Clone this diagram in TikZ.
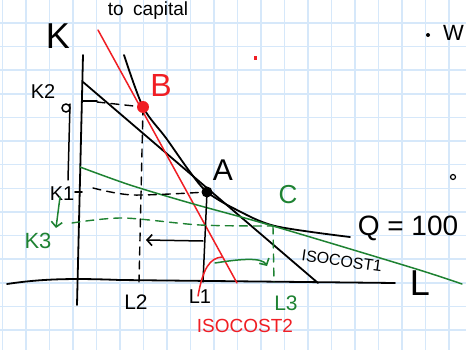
\documentclass[tikz,border=0pt]{standalone}
\usepackage{fontspec}
\setmainfont{Liberation Sans}
\usetikzlibrary{arrows.meta}
\definecolor{gridblue}{RGB}{214,232,250}
\definecolor{pengreen}{RGB}{30,130,50}
\definecolor{penred}{RGB}{240,30,36}

\begin{document}
\begin{tikzpicture}[x=1pt,y=-1pt,
  line cap=round,line join=round,
  every node/.style={inner sep=0pt},
  pen/.style={line width=1.8pt},
  guide/.style={line width=1.4pt,dash pattern=on 8pt off 6pt},
  tip/.style={-{Straight Barb[length=5pt,width=11pt,line width=1.6pt]}},
  hand/.style={font=\fontsize{#1}{#1}\selectfont}]
  \useasboundingbox (0,0) rectangle (466,350);
  % squared paper
  \fill[white] (0,0) rectangle (466,350);
  \foreach \gx in {0,...,19}
    \draw[gridblue,line width=1.6pt] (2.5+23.5*\gx,0) -- ++(0,350);
  \foreach \gy in {1,...,14}
    \draw[gridblue,line width=1.6pt] (0,-0.5+23.6*\gy) -- ++(466,0);

  % axes
  \coordinate (Ktop) at (83,55);
  \coordinate (Kbot) at (77,305);
  \coordinate (Lleft) at (7,284);
  \coordinate (Lright) at (395,283);
  \draw[pen] (Ktop) -- (Kbot);
  \draw[pen] (Lleft) .. controls (40,279) and (70,278) .. (120,280) -- (Lright);
  \node[hand=36] (K) at (58,36) {K};
  \node[hand=36] (L) at (420,283) {L};
  \node[hand=19] (capital) at (148,11) {to\enspace capital};

  % points
  \coordinate (A) at (207,192);
  \coordinate (B) at (143,107);
  \coordinate (C) at (273,226);

  % isocost 1, isocost 2, isoquant
  \coordinate (I1a) at (83,82);
  \coordinate (I1b) at (318,283);
  \draw[pen] (I1a) -- (I1b);
  \coordinate (I2a) at (98,30);
  \coordinate (I2b) at (237,283);
  \draw[pen,penred,line width=1.5pt] (I2a) -- (I2b);
  \draw[pen] plot[smooth] coordinates {(124,55) (B) (166,138) (190,172) (A)
    (235,209) (275,226) (350,237)};
  \node[hand=28] (Q) at (408,228) {Q = 100};

  % isocost 3
  \draw[pen,pengreen,line width=1.5pt] plot[smooth] coordinates {(80,167) (130,185)
    (190,203) (C) (413,268) (462,284)};

  % guides to the axes
  \draw[pen] (83,101) -- (97,101);
  \draw[guide] (97,102) -- (B);
  \draw[guide] (B) -- (139,282);
  \draw[pen] (75,192) -- (82,192);
  \draw[guide] plot[smooth] coordinates {(93,188) (133,195) (A)};
  \draw[pen,line width=1.5pt] (A) -- (203,282);
  \draw[guide,pengreen] plot[smooth] coordinates {(72,223) (123,218) (200,225) (C)};
  \draw[guide,pengreen] (C) -- (274,282);

  \fill[penred] (B) circle (6);
  \fill (A) circle (5.5);
  \node[hand=32,penred] (Blab) at (161,85) {B};
  \node[hand=30] (Alab) at (223,170) {A};
  \node[hand=26,pengreen] (Clab) at (288,195) {C};

  % axis labels
  \node[hand=20] (K2) at (43,92) {K2};
  \draw[pen,line width=1.5pt] (66,108) circle (4);
  \draw[pen,line width=1.5pt] (70,104) -- (68,180);
  \node[hand=20] (K1) at (62,194) {K1};
  \node[hand=22,pengreen] (K3) at (38,241) {K3};
  \node[hand=21] (L2) at (136,302) {L2};
  \node[hand=20] (L1) at (200,297) {L1};
  \node[hand=21,pengreen] (L3) at (286,303) {L3};

  % shifts
  \draw[pen,pengreen,line width=1.5pt,tip] (60,197) -- (56,228);
  \draw[pen,line width=1.5pt,tip] (203,241) -- (146,240);
  \draw[pen,pengreen,line width=1.5pt,tip] (215,263) .. controls (240,259) and (262,257) .. (267,266);
  \draw[penred,line width=1.5pt] (198,296) .. controls (203,268) and (210,258) .. (222,257);

  \node[hand=16,rotate=-8] (iso1) at (342,261) {ISOCOST1};
  \node[hand=19,penred] (iso2) at (245,326) {ISOCOST2};

  % stray marks
  \fill (428,35) circle (2);
  \node[hand=22,anchor=west] (Wh) at (443,33) {W};
  \draw[line width=1.2pt] (453,177) circle (2.5);
  \fill[penred] (254,56) rectangle (257,60);
\end{tikzpicture}
\end{document}
